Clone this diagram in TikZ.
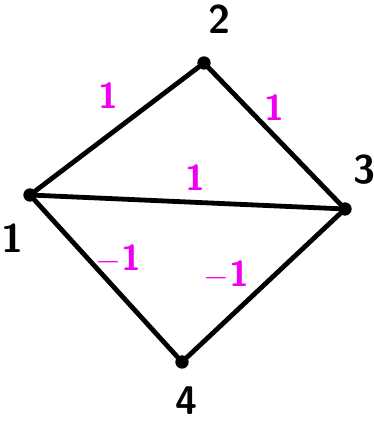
\documentclass[tikz,border=0pt]{standalone}
\usepackage{tikz}

\definecolor{wtpink}{RGB}{240,0,240}

\tikzset{
  vtx/.style={circle, fill=black, inner sep=0pt, minimum size=10pt},
  vlab/.style={font=\fontsize{30}{30}\selectfont\sffamily\bfseries, text=black},
  wt/.style={font=\fontsize{27}{27}\selectfont\sffamily\bfseries, text=wtpink},
  edge/.style={black, line width=3.6pt, line cap=round}
}

\begin{document}
\begin{tikzpicture}[x=0.75pt,y=-0.75pt]
\useasboundingbox (0,0) rectangle (374,424);
% vertices
\node[vtx] (n1) at (30,195) {};
\node[vtx] (n2) at (204,63) {};
\node[vtx] (n3) at (345,209) {};
\node[vtx] (n4) at (182,362) {};
% vertex labels
\node[vlab] (l1) at (13,238) {1};
\node[vlab] (l2) at (219,19) {2};
\node[vlab] (l3) at (364,170) {3};
\node[vlab] (l4) at (186,401) {4};
% edges with weights
\draw[edge] (n1) -- node[wt, xshift=-6.75pt, yshift=25pt] {1} (n2);
\draw[edge] (n2) -- node[wt, xshift=0pt, yshift=21pt] {1} (n3);
\draw[edge] (n1) -- node[wt, xshift=6pt, yshift=18pt] {1} (n3);
\draw[edge] (n1) -- node[wt, xshift=9pt, yshift=15pt] {$-$1} (n4);
\draw[edge] (n3) -- node[wt, xshift=-28pt, yshift=8pt] {$-$1} (n4);
\end{tikzpicture}
\end{document}
